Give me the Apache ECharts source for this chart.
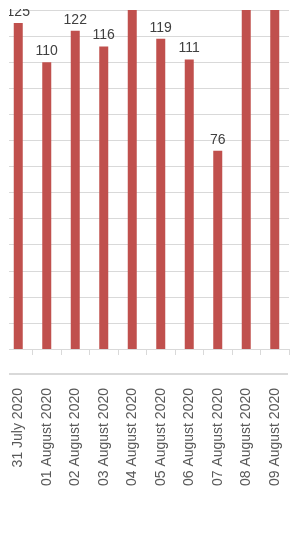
<!DOCTYPE html>
<html>
<head>
<meta charset="utf-8">
<script src="https://cdn.jsdelivr.net/npm/echarts@6/dist/echarts.min.js"></script>
<style>html,body{margin:0;padding:0;background:#fff;}#c{width:298px;height:538px;}</style>
</head>
<body>
<div id="c"></div>
<script>
const categories = ['31 July 2020','01 August 2020','02 August 2020','03 August 2020','04 August 2020','05 August 2020','06 August 2020','07 August 2020','08 August 2020','09 August 2020'];
const values = [125, 110, 122, 116, 131, 119, 111, 76, 131, 131];
const yMax = 130;

const chart = echarts.init(document.getElementById('c'), null, {renderer: 'canvas'});
chart.setOption({
  animation: false,
  backgroundColor: '#ffffff',
  grid: {left: 4, right: 9, top: 10, bottom: 189, containLabel: false},
  xAxis: {
    type: 'category',
    data: categories,
    axisLine: {lineStyle: {color: '#d9d9d9', width: 1}},
    axisTick: {show: true, length: 6, lineStyle: {color: '#d9d9d9'}},
    axisLabel: {rotate: 90, margin: 39, fontFamily: 'Liberation Sans', fontSize: 14, color: '#595959', interval: 0}
  },
  yAxis: {
    type: 'value', min: 0, max: yMax, interval: 10,
    axisLabel: {show: false}, axisLine: {show: false}, axisTick: {show: false},
    splitLine: {lineStyle: {color: '#d9d9d9', width: 1}}
  },
  series: [{
    type: 'bar',
    data: values,
    barWidth: 9,
    clip: true,
    itemStyle: {color: '#c0504d'},
    label: {
      show: true, position: 'top', distance: 4,
      fontFamily: 'Liberation Sans', fontSize: 14, color: '#404040',
      formatter: p => (p.value > yMax ? '' : String(p.value))
    }
  }],
  graphic: [
    {type: 'rect', left: 0, top: 0, shape: {width: 298, height: 9}, style: {fill: '#ffffff'}, z: 100},
    {type: 'rect', left: 0, top: 0, shape: {width: 9, height: 380}, style: {fill: '#ffffff'}, z: 100},
    {type: 'line', shape: {x1: 9, y1: 374, x2: 288, y2: 374}, style: {stroke: '#d9d9d9', lineWidth: 2}, z: 100}
  ]
});
</script>
</body>
</html>
